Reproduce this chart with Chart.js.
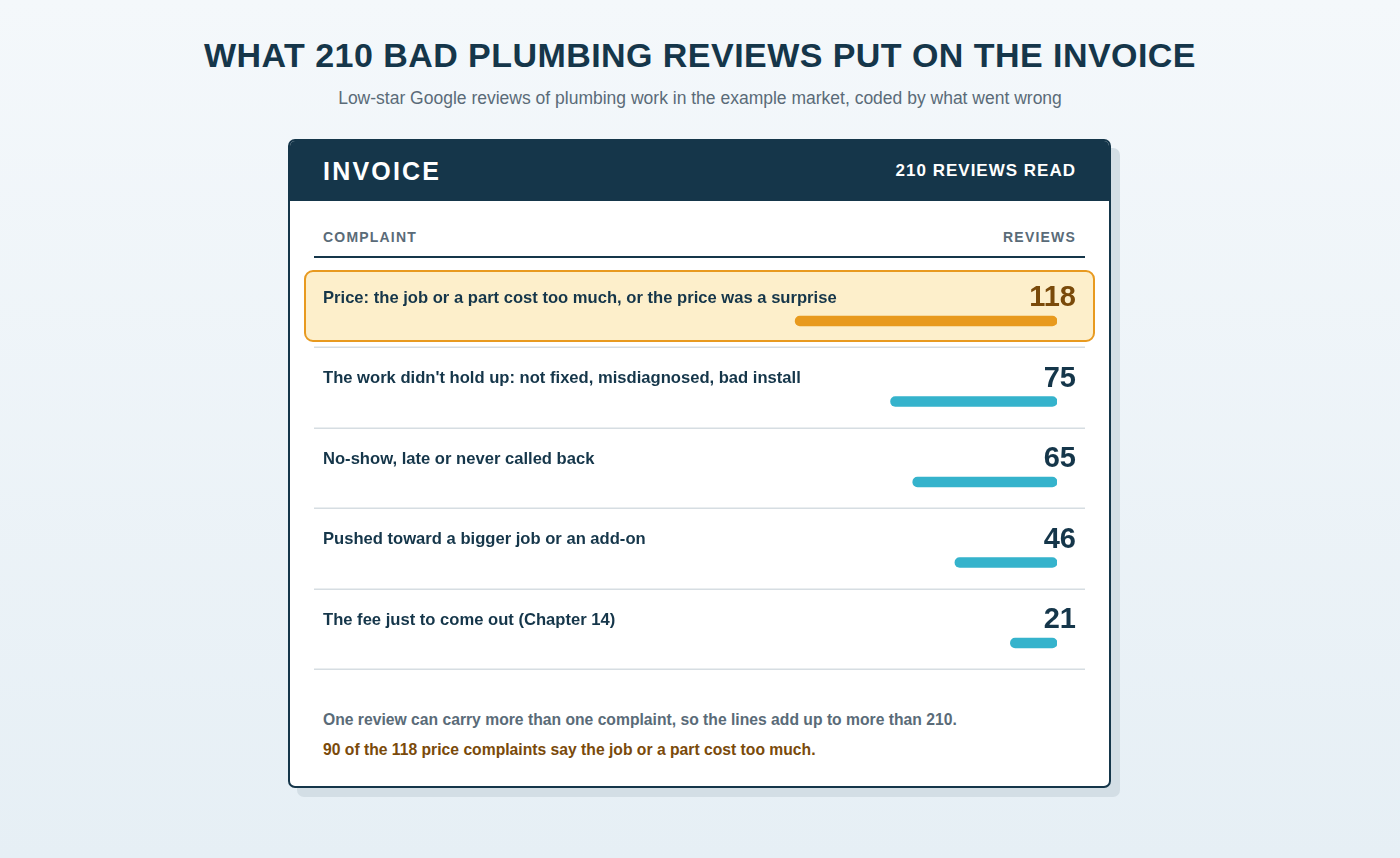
<!DOCTYPE html>
<html lang="en">
<head>
  <meta charset="UTF-8" />
  <title>Bad plumbing reviews invoice</title>
  <script src="https://cdn.jsdelivr.net/npm/chart.js"></script>
  <style>
    body { margin: 0; width: 1400px; height: 858px; position: relative; overflow: hidden; font-family: "Liberation Sans", Arial, sans-serif; background: linear-gradient(180deg, #f4f8fb 0%, #e6eff5 100%); color: #15364a; }
    h1 { position: absolute; left: 0; right: 0; top: 35px; margin: 0; text-align: center; font-size: 34px; line-height: 40px; letter-spacing: 0.45px; font-weight: bold; color: #15364a; }
    .sub { position: absolute; left: 0; right: 0; top: 88px; text-align: center; font-size: 17.5px; line-height: 20px; color: #5a6b78; }
    .card { position: absolute; left: 288px; top: 139px; width: 823px; height: 649px; box-sizing: border-box; border: 2px solid #15364a; border-radius: 7px; background: #fff; box-shadow: 9px 9px 0 #d3dee5; overflow: hidden; }
    .card-head { height: 60px; background: #15364a; color: #fff; display: flex; align-items: center; justify-content: space-between; padding: 0 33px; font-weight: bold; }
    .card-head .t { font-size: 25px; letter-spacing: 2.2px; }
    .card-head .r { font-size: 17px; letter-spacing: 1px; }
    .cols { margin: 0 24px; padding: 0 9px 11px; height: 57px; box-sizing: border-box; border-bottom: 2px solid #15364a; display: flex; align-items: flex-end; justify-content: space-between; font-size: 14px; font-weight: bold; letter-spacing: 1.2px; color: #5a6b78; }
    .note { position: absolute; left: 33px; font-weight: bold; line-height: 20px; font-size: 15.7px; }
    .n1 { top: 569px; color: #5a6b78; }
    .n2 { top: 599px; color: #7a4a0a; }
    .chart-box { position: absolute; left: 290px; top: 262px; width: 820px; height: 430px; }
  </style>
</head>
<body>
  <h1>WHAT 210 BAD PLUMBING REVIEWS PUT ON THE INVOICE</h1>
  <div class="sub">Low-star Google reviews of plumbing work in the example market, coded by what went wrong</div>

  <div class="card">
    <div class="card-head"><span class="t">INVOICE</span><span class="r">210 REVIEWS READ</span></div>
    <div class="cols"><span>COMPLAINT</span><span>REVIEWS</span></div>
    <div class="note n1">One review can carry more than one complaint, so the lines add up to more than 210.</div>
    <div class="note n2">90 of the 118 price complaints say the job or a part cost too much.</div>
  </div>

  <div class="chart-box"><canvas id="invoiceChart"></canvas></div>

  <script>
    const complaints = [
      "Price: the job or a part cost too much, or the price was a surprise",
      "The work didn't hold up: not fixed, misdiagnosed, bad install",
      "No-show, late or never called back",
      "Pushed toward a bigger job or an add-on",
      "The fee just to come out (Chapter 14)"
    ];
    const reviewCounts = [118, 75, 65, 46, 21];
    const totalReviews = 210;
    const highlightIndex = 0;

    const navy = "#15364a";
    const brown = "#7a4a0a";

    // row furniture: highlight box, separators, labels and counts
    const invoiceRows = {
      id: "invoiceRows",
      beforeDatasetsDraw(chart) {
        const { ctx, scales: { y } } = chart;
        ctx.save();
        const hy = y.getPixelForValue(highlightIndex);
        ctx.beginPath();
        ctx.roundRect(15, hy - 50, 789, 70, 8);
        ctx.fillStyle = "#fdefcb";
        ctx.fill();
        ctx.lineWidth = 2;
        ctx.strokeStyle = "#e89a20";
        ctx.stroke();

        ctx.strokeStyle = "#d6dde2";
        ctx.lineWidth = 1.5;
        complaints.forEach((c, i) => {
          const ly = Math.round(y.getPixelForValue(i) + 26) + 0.25;
          ctx.beginPath();
          ctx.moveTo(24, ly);
          ctx.lineTo(795, ly);
          ctx.stroke();
        });
        ctx.restore();
      },
      afterDatasetsDraw(chart) {
        const { ctx, scales: { y } } = chart;
        ctx.save();
        ctx.textBaseline = "middle";
        complaints.forEach((c, i) => {
          const cy = y.getPixelForValue(i);
          ctx.fillStyle = navy;
          ctx.textAlign = "left";
          ctx.font = "bold 16.6px 'Liberation Sans', Arial, sans-serif";
          ctx.fillText(c, 33, cy - 23);
          ctx.fillStyle = i === highlightIndex ? brown : navy;
          ctx.textAlign = "right";
          ctx.font = "bold 29px 'Liberation Sans', Arial, sans-serif";
          ctx.fillText(String(reviewCounts[i]), 786, cy - 23);
        });
        ctx.restore();
      }
    };

    new Chart(document.getElementById("invoiceChart"), {
      type: "bar",
      data: {
        labels: complaints,
        datasets: [{
          data: reviewCounts,
          backgroundColor: reviewCounts.map((v, i) => i === highlightIndex ? "#e89a1e" : "#35b3cc"),
          barThickness: 10,
          borderRadius: 5,
          borderSkipped: false
        }]
      },
      options: {
        indexAxis: "y",
        responsive: true,
        maintainAspectRatio: false,
        animation: false,
        devicePixelRatio: 1,
        layout: { padding: { left: 301, right: 53, top: 18.75, bottom: 8.75 } },
        plugins: { legend: { display: false }, tooltip: { enabled: false } },
        scales: {
          x: { display: false, reverse: true, min: 0, max: totalReviews },
          y: { display: false }
        }
      },
      plugins: [invoiceRows]
    });
  </script>
</body>
</html>
